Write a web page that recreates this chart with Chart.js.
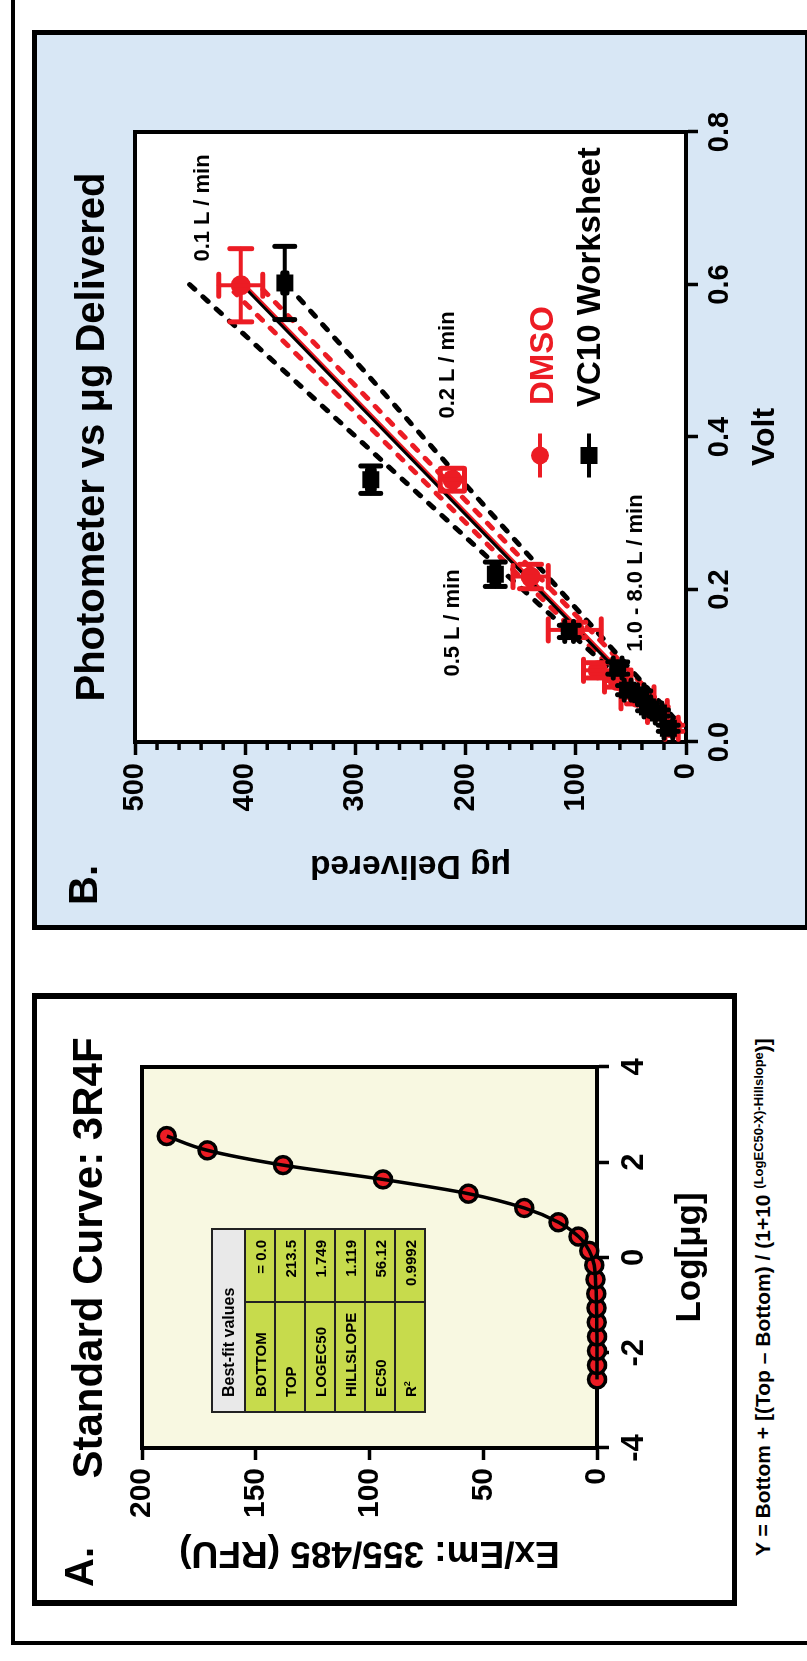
<!DOCTYPE html>
<html><head><meta charset="utf-8">
<script src="https://cdn.jsdelivr.net/npm/chart.js@4.4.1/dist/chart.umd.min.js"></script>
<style>
html,body{margin:0;padding:0;width:807px;height:1661px;overflow:hidden;background:#fff;}
#frame{position:absolute;left:0;top:0;width:1661px;height:807px;transform-origin:0 0;transform:translate(0px,1661px) rotate(-90deg);font-family:"Liberation Sans",Arial,sans-serif;color:#000;}
.box{position:absolute;box-sizing:border-box;}
.t{position:absolute;white-space:nowrap;line-height:1;font-weight:bold;}
.c{transform:translateX(-50%);}
canvas{position:absolute;}
#tbl{position:absolute;left:248px;top:211px;width:185px;border-collapse:collapse;font-size:15px;font-weight:bold;z-index:3;}
#tbl td{border:2px solid #222;background:#c7db4c;height:28px;padding:0;line-height:1;}
#tbl td.h{background:#e9e9e9;height:31px;padding-left:14px;font-size:16px;}
#tbl td.l{padding-left:14px;width:94px;}
#tbl td.v{text-align:right;padding-right:10px;}
sup{font-size:9px;vertical-align:6px;}
</style></head>
<body>
<div id="frame">
  <div class="box" style="left:16px;top:11px;width:1700px;height:900px;border-left:4px solid #000;border-top:4px solid #000;"></div>
  <div class="box" style="left:55px;top:32px;width:613px;height:705px;border:6px solid #000;border-top-width:5px;border-bottom-width:5px;background:#fff;"></div>
  <div class="box" style="left:731px;top:32px;width:900px;height:778px;border:5px solid #000;background:#d8e7f5;"></div>
  <canvas id="cA" width="600" height="695" style="left:61px;top:37px;"></canvas>
  <canvas id="cB" width="890" height="770" style="left:736px;top:37px;"></canvas>

  <div class="t c" style="left:403px;top:67px;font-size:42px;">Standard Curve: 3R4F</div>
  <div class="t" style="left:74px;top:59px;font-size:40px;">A.</div>
  <div class="t c" style="left:1224px;top:70px;font-size:40px;">Photometer vs μg Delivered</div>
  <div class="t" style="left:756px;top:63px;font-size:40px;">B.</div>
  <div class="t" style="left:105px;top:752px;font-size:21px;">Y = Bottom + [(Top – Bottom) / (1+10 <span style="font-size:13px;position:relative;top:-7px;">(LogEC50-X)-Hillslope</span>)]</div>

  <div class="t" style="left:1256px;top:525px;font-size:33px;color:#ec1c24;z-index:3;">DMSO</div>
  <div class="t" style="left:1254px;top:572px;font-size:33px;z-index:3;">VC10 Worksheet</div>
  <div class="t c" style="left:1453px;top:191px;font-size:22px;z-index:3;">0.1 L / min</div>
  <div class="t c" style="left:1296px;top:436px;font-size:22px;z-index:3;">0.2 L / min</div>
  <div class="t c" style="left:1038px;top:441px;font-size:22px;z-index:3;">0.5 L / min</div>
  <div class="t c" style="left:1088px;top:624px;font-size:22px;z-index:3;">1.0 - 8.0 L / min</div>

  <table id="tbl">
    <tr><td class="h" colspan="2">Best-fit values</td></tr>
    <tr><td class="l">BOTTOM</td><td class="v">= 0.0</td></tr>
    <tr><td class="l">TOP</td><td class="v">213.5</td></tr>
    <tr><td class="l">LOGEC50</td><td class="v">1.749</td></tr>
    <tr><td class="l">HILLSLOPE</td><td class="v">1.119</td></tr>
    <tr><td class="l">EC50</td><td class="v">56.12</td></tr>
    <tr><td class="l">R<sup>2</sup></td><td class="v">0.9992</td></tr>
  </table>
</div>
<script>
// ---------- Panel A: Standard Curve 3R4F ----------
const logUg = [-2.56, -2.26, -1.96, -1.66, -1.36, -1.06, -0.76, -0.46, -0.16, 0.14, 0.44, 0.74, 1.04, 1.34, 1.64, 1.94, 2.25, 2.55];
const rfu   = [0, 0, 0, 0, 0.1, 0.2, 0.3, 0.7, 1.2, 3.4, 8.1, 16.9, 32.0, 56.5, 94.1, 138.0, 171.2, 189.1];
const aXTicks = [-4, -2, 0, 2, 4];
const aYTicks = [0, 50, 100, 150, 200];

// ---------- Panel B: Photometer vs ug Delivered ----------
const dmsoVolt    = [0.018, 0.040, 0.058, 0.080, 0.094, 0.147, 0.217, 0.344, 0.599];
const dmsoUg      = [13, 26, 44, 62, 80, 101, 141, 212, 404];
const dmsoVoltErr = [0.004, 0.006, 0.008, 0.008, 0.010, 0.010, 0.016, 0.015, 0.048];
const dmsoUgErr   = [6, 9, 15, 12, 13, 24, 16, 11, 20];

const vc10Volt    = [0.018, 0.038, 0.046, 0.062, 0.068, 0.097, 0.145, 0.220, 0.344, 0.602];
const vc10Ug      = [16, 25, 35, 41, 53, 62, 106, 173, 286, 364];
const vc10VoltErr = [0.004, 0.004, 0.005, 0.005, 0.006, 0.008, 0.008, 0.016, 0.018, 0.048];
const vc10UgErr   = [4, 3, 3, 3, 3, 4, 4, 3, 3, 2];

const fitBlackVolt = [0.018, 0.602];  const fitBlackUg = [11.5, 404.5];
const fitRedVolt   = [0.018, 0.599];  const fitRedUg   = [9, 400];
const ciBlackHiVolt = [0.020, 0.602]; const ciBlackHiUg = [12, 452];
const ciBlackLoVolt = [0.030, 0.590]; const ciBlackLoUg = [10, 356];
const ciRedHiVolt   = [0.020, 0.590]; const ciRedHiUg   = [14, 410];
const ciRedLoVolt   = [0.025, 0.595]; const ciRedLoUg   = [6, 385];

const bXTicks = [0, 0.2, 0.4, 0.6, 0.8];
const bYTicks = [0, 100, 200, 300, 400, 500];
const bYMinorTicks = [20,40,60,80,120,140,160,180,220,240,260,280,320,340,360,380,420,440,460,480];

const RED = '#ec1c24';
const FONT = "'Liberation Sans', Arial, sans-serif";
Chart.defaults.font.family = FONT;
Chart.defaults.color = '#000';

const pts = (xs, ys) => xs.map((x, i) => ({x: x, y: ys[i]}));

const areaPlugin = {
  id: 'areaPlugin',
  beforeDraw(chart, args, opts) {
    const a = chart.chartArea, ctx = chart.ctx;
    ctx.save(); ctx.fillStyle = opts.bg; ctx.fillRect(a.left, a.top, a.right - a.left, a.bottom - a.top); ctx.restore();
  },
  beforeDatasetsDraw(chart, args, opts) {
    const a = chart.chartArea, ctx = chart.ctx;
    ctx.save(); ctx.strokeStyle = '#000'; ctx.lineWidth = opts.frame;
    ctx.strokeRect(a.left, a.top, a.right - a.left, a.bottom - a.top);
    if (opts.minor) {
      const ys = chart.scales.y; ctx.lineWidth = 3.5;
      opts.minor.forEach(v => { const p = ys.getPixelForValue(v); ctx.beginPath(); ctx.moveTo(a.left - 8, p); ctx.lineTo(a.left, p); ctx.stroke(); });
    }
    ctx.restore();
  }
};

const errorBars = {
  id: 'errorBars',
  afterDatasetDraw(chart, args) {
    const ds = chart.data.datasets[args.index];
    if (!ds.errX) return;
    const ctx = chart.ctx, xs = chart.scales.x, ys = chart.scales.y, cap = ds.capSize / 2;
    const seg = (x1, y1, x2, y2) => { ctx.beginPath(); ctx.moveTo(x1, y1); ctx.lineTo(x2, y2); ctx.stroke(); };
    ctx.save(); ctx.strokeStyle = ds.backgroundColor; ctx.lineCap = 'round';
    ds.data.forEach((p, i) => {
      const px = xs.getPixelForValue(p.x), py = ys.getPixelForValue(p.y);
      const ex = ds.errX[i], ey = ds.errY[i];
      if (ex) {
        const x1 = xs.getPixelForValue(p.x - ex), x2 = xs.getPixelForValue(p.x + ex);
        ctx.lineWidth = 4; seg(x1, py, x2, py);
        ctx.lineWidth = 5; seg(x1, py - cap, x1, py + cap); seg(x2, py - cap, x2, py + cap);
      }
      if (ey) {
        const y1 = ys.getPixelForValue(p.y - ey), y2 = ys.getPixelForValue(p.y + ey);
        ctx.lineWidth = 4; seg(px, y1, px, y2);
        ctx.lineWidth = 5; seg(px - cap, y1, px + cap, y1); seg(px - cap, y2, px + cap, y2);
      }
    });
    ctx.restore();
  }
};

const legendB = {
  id: 'legendB',
  afterDatasetsDraw(chart) {
    const a = chart.chartArea, ctx = chart.ctx;
    const cx = a.left + 286.5;
    ctx.save(); ctx.lineWidth = 4;
    let cy = a.top + 405;
    ctx.strokeStyle = RED; ctx.fillStyle = RED;
    ctx.beginPath(); ctx.moveTo(cx - 22, cy); ctx.lineTo(cx + 22, cy); ctx.stroke();
    ctx.beginPath(); ctx.arc(cx, cy, 9, 0, Math.PI * 2); ctx.fill();
    cy = a.top + 454;
    ctx.strokeStyle = '#000'; ctx.fillStyle = '#000';
    ctx.beginPath(); ctx.moveTo(cx - 22, cy); ctx.lineTo(cx + 22, cy); ctx.stroke();
    ctx.fillRect(cx - 8.5, cy - 8.5, 17, 17);
    ctx.restore();
  }
};

const tickGrid = (len) => ({display: true, drawOnChartArea: false, drawTicks: true, tickLength: len, tickWidth: 3.5, tickColor: '#000'});
const axBorder = {display: true, color: '#000', width: 4};

// ---------- Chart A ----------
new Chart(document.getElementById('cA'), {
  type: 'scatter',
  data: { datasets: [
    { data: pts(logUg, rfu), showLine: true, borderColor: '#000', borderWidth: 3.5, pointRadius: 0,
      cubicInterpolationMode: 'monotone', clip: false, order: 0 },
    { data: pts(logUg, rfu), showLine: false, pointRadius: 8.5, pointBorderWidth: 3.5,
      pointBackgroundColor: RED, pointBorderColor: '#000', clip: false, order: 1 }
  ]},
  options: {
    responsive: false, animation: false, devicePixelRatio: 1, events: [],
    layout: { padding: { left: 0, right: 67, top: 105, bottom: 0 } },
    plugins: { legend: {display: false}, tooltip: {enabled: false}, areaPlugin: {bg: '#f8f8e1', frame: 4} },
    scales: {
      x: { type: 'linear', min: -4, max: 4,
        afterBuildTicks: s => { s.ticks = aXTicks.map(v => ({value: v})); },
        afterFit: s => { s.height = 135; },
        ticks: { font: {size: 31, weight: 'bold'}, padding: 6.4, color: '#000', maxRotation: 0 },
        grid: tickGrid(12), border: axBorder,
        title: { display: true, text: 'Log[μg]', font: {size: 35, weight: 'bold'}, padding: {top: 0, bottom: 20.4}, color: '#000' } },
      y: { type: 'linear', min: 0, max: 200,
        afterBuildTicks: s => { s.ticks = aYTicks.map(v => ({value: v})); },
        afterFit: s => { s.width = 152; },
        ticks: { font: {size: 30, weight: 'bold'}, padding: 8, color: '#000' },
        grid: tickGrid(12), border: axBorder,
        title: { display: true, text: 'Ex/Em: 355/485 (RFU)', font: {size: 37, weight: 'bold'}, padding: {top: 25.8, bottom: 0}, color: '#000' } }
    }
  },
  plugins: [areaPlugin]
});

// ---------- Chart B ----------
const lineDs = (xs, ys, color, width, dash, order) => ({
  data: pts(xs, ys), showLine: true, borderColor: color, borderWidth: width, borderDash: dash,
  borderCapStyle: 'round', pointRadius: 0, clip: false, order: order
});

new Chart(document.getElementById('cB'), {
  type: 'scatter',
  data: { datasets: [
    { label: 'VC10 Worksheet', data: pts(vc10Volt, vc10Ug), pointStyle: 'rect', pointRadius: 12, pointBorderWidth: 0,
      backgroundColor: '#000', pointBackgroundColor: '#000', errX: vc10VoltErr, errY: vc10UgErr, capSize: 20, clip: false, order: 0 },
    { label: 'DMSO', data: pts(dmsoVolt, dmsoUg), pointStyle: 'circle', pointRadius: 10, pointBorderWidth: 0,
      backgroundColor: RED, pointBackgroundColor: RED, errX: dmsoVoltErr, errY: dmsoUgErr, capSize: 22, clip: false, order: 1 },
    lineDs(fitBlackVolt, fitBlackUg, '#000', 3, [], 2),
    lineDs(fitRedVolt, fitRedUg, RED, 3, [], 3),
    lineDs(ciBlackHiVolt, ciBlackHiUg, '#000', 5, [7, 11], 4),
    lineDs(ciBlackLoVolt, ciBlackLoUg, '#000', 5, [7, 11], 5),
    lineDs(ciRedHiVolt, ciRedHiUg, RED, 5, [7, 11], 6),
    lineDs(ciRedLoVolt, ciRedLoUg, RED, 5, [7, 11], 7)
  ]},
  options: {
    responsive: false, animation: false, devicePixelRatio: 1, events: [],
    layout: { padding: { left: 0, right: 97, top: 98, bottom: 0 } },
    plugins: { legend: {display: false}, tooltip: {enabled: false}, areaPlugin: {bg: '#ffffff', frame: 4, minor: bYMinorTicks} },
    scales: {
      x: { type: 'linear', min: 0, max: 0.8,
        afterBuildTicks: s => { s.ticks = bXTicks.map(v => ({value: v})); },
        afterFit: s => { s.height = 121; },
        ticks: { font: {size: 29, weight: 'bold'}, padding: 4.6, color: '#000', maxRotation: 0, callback: v => Number(v).toFixed(1) },
        grid: tickGrid(12), border: axBorder,
        title: { display: true, text: 'Volt', font: {size: 32, weight: 'bold'}, padding: {top: 0, bottom: 22.8}, color: '#000' } },
      y: { type: 'linear', min: 0, max: 500,
        afterBuildTicks: s => { s.ticks = bYTicks.map(v => ({value: v})); },
        afterFit: s => { s.width = 183; },
        ticks: { font: {size: 29, weight: 'bold'}, padding: 8, color: '#000' },
        grid: tickGrid(13), border: axBorder,
        title: { display: true, text: 'μg Delivered', font: {size: 33.5, weight: 'bold'}, padding: {top: 39.9, bottom: 0}, color: '#000' } }
    }
  },
  plugins: [areaPlugin, errorBars, legendB]
});
</script>
</body></html>
